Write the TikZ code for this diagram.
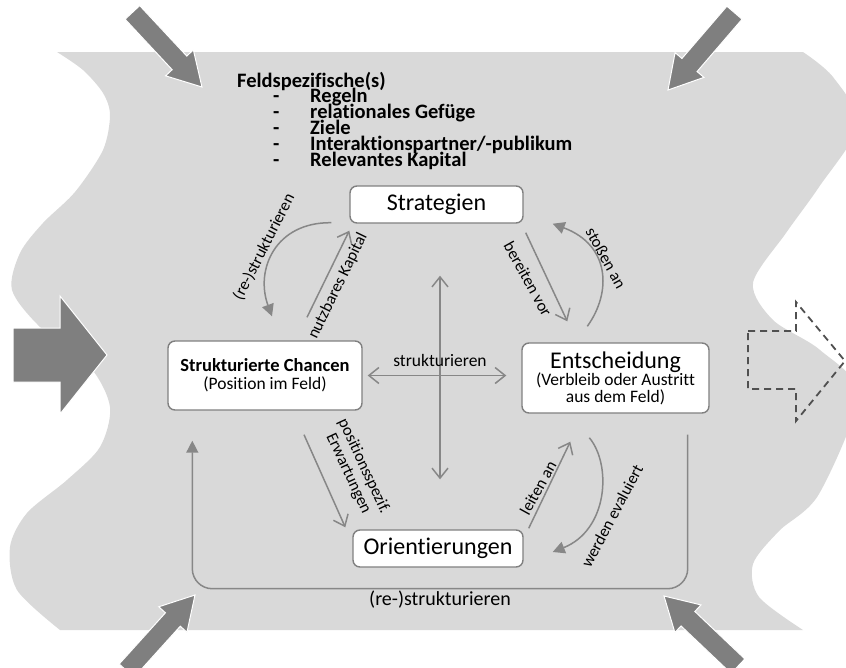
\documentclass[tikz,border=0pt]{standalone}
\usepackage{fontspec}
\setmainfont{Carlito}[Ligatures={NoCommon}]
\usetikzlibrary{arrows.meta,calc}

\definecolor{fieldgray}{HTML}{D9D9D9}
\definecolor{arrowgray}{HTML}{7F7F7F}
\definecolor{linegray}{HTML}{878787}
\definecolor{boxgray}{HTML}{808080}
\definecolor{dashgray}{HTML}{505050}

\tikzset{
  box/.style={draw=boxgray, line width=1.4pt, fill=white, rounded corners=7pt, inner sep=0pt},
  bigfont/.style={font=\fontsize{24}{28}\selectfont},
  lbl/.style={font=\fontsize{16.5}{17}\selectfont, inner sep=0pt},
  conn/.style={draw=linegray, line width=1.5pt},
  vtip/.style={conn, -{Straight Barb[length=10pt,width=16pt]}},
  vtips/.style={conn, {Straight Barb[length=10pt,width=16pt]}-{Straight Barb[length=10pt,width=16pt]}},
  filltip/.style={conn, -{Triangle[length=12pt,width=12pt]}},
  feld/.style={anchor=base west, inner sep=0pt, font=\bfseries\fontsize{20.5}{16}\selectfont},
  pics/fieldarrow/.style={code={
    \fill[arrowgray, draw=white, line width=1pt] (0,-10) -- (69,-10) -- (69,-19) -- (102,0) -- (69,19) -- (69,10) -- (0,10) -- cycle;
  }}
}

\begin{document}
\begin{tikzpicture}[x=1pt,y=-1pt]
\useasboundingbox (0,0) rectangle (846,667);
\clip (0,0) rectangle (846,667);

% das Feld
\fill[fieldgray] (57,52) -- (803,52)
  -- plot[smooth] coordinates {(803,52) (833,77) (858,125) (819,187) (786,233) (753,283) (773,320) (820,350) (858,395) (819,494) (779,531) (753,564) (759,597) (803,630)}
  -- (60,630)
  -- plot[smooth] coordinates {(60,630) (17,590) (10,547) (27,513) (67,480) (100,447) (110,407) (90,367) (40,327) (12,290) (20,253) (43,223) (75,192) (103,150) (110,115) (103,93) (83,70) (57,52)}
  -- cycle;

% Pfeile von aussen
\pic[rotate=-47] at (132.4,12.4) {fieldarrow};
\pic[rotate=-130.7] at (734.5,12.7) {fieldarrow};
\pic[rotate=47.9] at (126.6,670.7) {fieldarrow};
\pic[rotate=136.5] at (738,666.2) {fieldarrow};
\fill[arrowgray, draw=white, line width=1pt] (13,328) -- (60,328) -- (60,296) -- (107,355) -- (60,414) -- (60,382) -- (13,382) -- cycle;
\draw[dashgray, line width=1.8pt, dash pattern=on 7pt off 5pt] (748,331) -- (796,331) -- (796,302) -- (845,361) -- (796,421) -- (796,389) -- (748,389) -- cycle;

% Feldspezifische(s)
\node[feld] (feld0) at (237,87) {Feldspezifische(s)};
\node[feld] (feld1) at (273,102) {\makebox[37pt][l]{-}Regeln};
\node[feld] (feld2) at (273,118) {\makebox[37pt][l]{-}relationales Gefüge};
\node[feld] (feld3) at (273,134) {\makebox[37pt][l]{-}Ziele};
\node[feld] (feld4) at (273,150) {\makebox[37pt][l]{-}Interaktionspartner/-publikum};
\node[feld] (feld5) at (273,166) {\makebox[37pt][l]{-}Relevantes Kapital};

% Kaesten
\node[box, bigfont, minimum width=173pt, minimum height=37pt] (strat) at (436.5,204.5) {Strategien};
\node[box, minimum width=194pt, minimum height=69pt, align=center] (chancen) at (265,375.5)
  {{\bfseries\fontsize{18.5}{20}\selectfont Strukturierte Chancen}\\[4pt] {\fontsize{17.5}{18}\selectfont (Position im Feld)}};
\node[box, minimum width=187pt, minimum height=70pt, align=center] (entsch) at (615.5,378)
  {{\fontsize{24}{24}\selectfont Entscheidung}\\[0pt] {\fontsize{17.5}{18}\selectfont (Verbleib oder Austritt}\\ {\fontsize{17.5}{18}\selectfont aus dem Feld)}};
\node[box, bigfont, minimum width=170pt, minimum height=37pt] (orient) at (438,548.5) {Orientierungen};

% Verbindungen
\draw[filltip] ($(strat.south west)+(-18,-1)$) .. controls (275,222) and (255,270) .. ($(chancen.north)+(7,-24)$);
\draw[vtip] ($(chancen.north)+(42,-23)$) -- ($(strat.south west)+(0,7)$);
\draw[vtip] ($(strat.south east)+(2,9)$) -- ($(entsch.north west)+(46,-21)$);
\draw[filltip] ($(entsch.north west)+(66,-16)$) .. controls (612,292) and (610,245) .. ($(strat.south east)+(29,0)$);
\draw[vtip] ($(chancen.south)+(39,24)$) -- ($(orient.north west)+(-7,-2)$);
\draw[vtip] ($(orient.north east)+(5,-1)$) -- ($(entsch.south west)+(49,28)$);
\draw[filltip] ($(entsch.south west)+(68,24)$) .. controls (612,465) and (608,530) .. ($(orient.east)+(29,3.5)$);

\coordinate (vtop) at ($(strat.south)+(3.5,52)$);
\coordinate (vbot) at ($(orient.north)+(2,-50)$);
\draw[vtips] (vbot) -- (vtop);
\draw[vtips] ($(chancen.east)+(5,0)$) -- ($(entsch.west)+(-15,-2.5)$);
\draw[filltip, rounded corners=20pt] ($(entsch.south east)+(-22,21)$) -- ++(0,154) -| ($(chancen.south west)+(25,30)$);

% Beschriftungen
\node[lbl, rotate=63] (lre) at (264,247) {(re-)strukturieren};
\node[lbl, rotate=64] (lkap) at (338,286) {nutzbares Kapital};
\node[lbl, rotate=-61] (lvor) at (528,279) {bereiten vor};
\node[lbl, rotate=-61] (lstoss) at (606,258) {stoßen an};
\node[lbl, rotate=-65, align=center] (lpos) at (356,470) {positionsspezif.\\Erwartungen};
\node[lbl, rotate=61] (lleit) at (538,488) {leiten an};
\node[lbl, rotate=62] (leval) at (612,516) {werden evaluiert};
\node[lbl, font=\fontsize{17.5}{20}\selectfont] (lstruk) at (440,360) {strukturieren};
\node[lbl, font=\fontsize{20}{20}\selectfont] (lrestr) at (440,600) {(re-)strukturieren};
\end{tikzpicture}
\end{document}
